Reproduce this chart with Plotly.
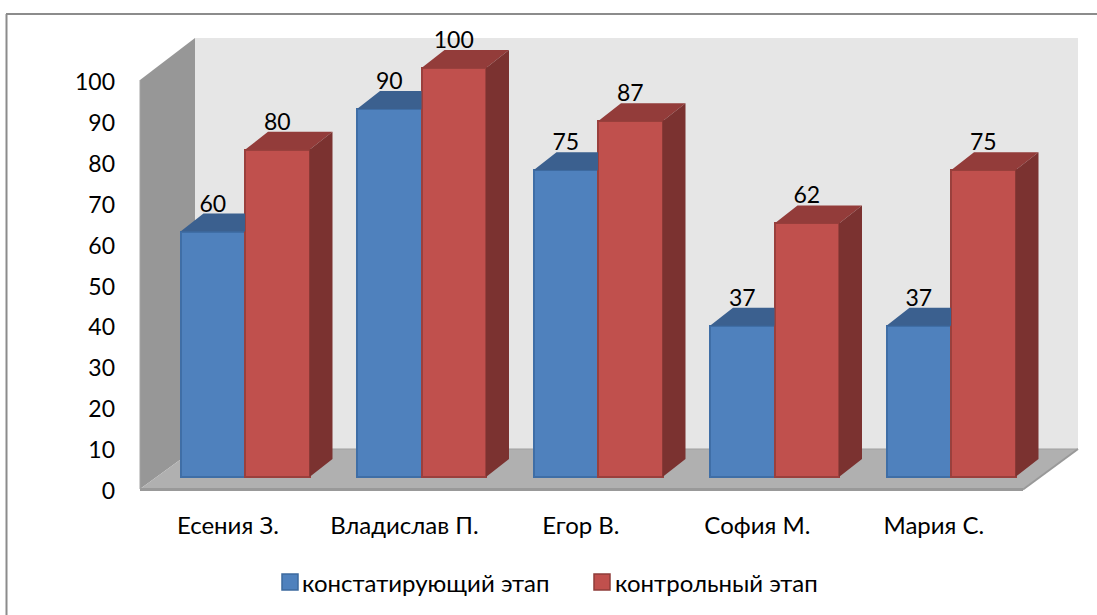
import plotly.graph_objects as go

categories = ["Есения З.", "Владислав П.", "Егор В.", "София М.", "Мария С."]
series_names = ["констатирующий этап", "контрольный этап"]
values_first = [60, 90, 75, 37, 37]
values_second = [80, 100, 87, 62, 75]
y_ticks = [0, 10, 20, 30, 40, 50, 60, 70, 80, 90, 100]

W, H = 1097, 615
L, R, T, B = 140, 1085, 20, 489          # plot area in pixels
PX_PER_VAL = 4.09
PX_PER_CAT = 176.5
X0_PX = 245                              # pixel of category 0 centre
x_min = (L - X0_PX) / PX_PER_CAT
x_max = (R - X0_PX) / PX_PER_CAT
y_max = (B - T) / PX_PER_VAL

bar_w = 64.5 / PX_PER_CAT
base = 12 / PX_PER_VAL
dx = 23 / PX_PER_CAT
dy = 18 / PX_PER_VAL

FONT = "Lato, 'Open Sans', sans-serif"
FS = 23
FS_TEXT = 24
BLUE, BLUE_EDGE = "#4f81bd", "#3f6ea6"
RED, RED_EDGE = "#c0504d", "#9a403d"


def px(x):
    return (x - L) / (R - L)


def py(y):
    return (B - y) / (B - T)


def path(points):
    return "M" + " L".join(f"{px(a):.5f},{py(b):.5f}" for a, b in points) + " Z"


def poly(points, color, line=None, width=0):
    return dict(type="path", xref="paper", yref="paper", path=path(points),
                fillcolor=color, line=dict(color=line or color, width=width), layer="below")


def seg(x0, y0, x1, y1, color, width):
    return dict(type="line", xref="paper", yref="paper",
                x0=px(x0), y0=py(y0), x1=px(x1), y1=py(y1),
                line=dict(color=color, width=width), layer="below")


shapes = [
    poly([(195, 38), (1078, 38), (1078, 449), (195, 449)], "#e6e6e6"),
    poly([(140, 80), (195, 38), (195, 449), (140, 489)], "#979797"),
    poly([(195, 449), (1078, 449), (1023, 489), (140, 489)], "#b0b0b0"),
    seg(140, 489.5, 1023, 489.5, "#999999", 3),
    seg(1023, 489.5, 1078, 449, "#999999", 2),
    seg(195, 449, 1078, 449, "#a0a0a0", 1),
    seg(140, 80, 140, 489, "#a3a3a3", 1),
    seg(6.5, 14, 6.5, 615, "#8c8c8c", 2),
    seg(6, 14, 1097, 14, "#8c8c8c", 2),
    # legend swatches
    poly([(282, 574), (298, 574), (298, 590), (282, 590)], BLUE, "#3d6a9e", 1.5),
    poly([(594, 574), (610, 574), (610, 590), (594, 590)], RED, "#8f3d3a", 1.5),
]

annotations = [
    dict(xref="paper", yref="paper", x=px(300), y=py(582), xanchor="left", yanchor="middle",
         text=series_names[0], showarrow=False, font=dict(family=FONT, size=FS_TEXT, color="#000")),
    dict(xref="paper", yref="paper", x=px(613), y=py(582), xanchor="left", yanchor="middle",
         text=series_names[1], showarrow=False, font=dict(family=FONT, size=FS_TEXT, color="#000")),
]

idx = list(range(len(categories)))
fig = go.Figure()

# front faces
fig.add_bar(x=[i - bar_w / 2 for i in idx], y=values_first, base=base, width=bar_w,
            name=series_names[0], marker=dict(color=BLUE, line=dict(color=BLUE_EDGE, width=2)))
fig.add_bar(x=[i + bar_w / 2 for i in idx], y=values_second, base=base, width=bar_w,
            name=series_names[1], marker=dict(color=RED, line=dict(color=RED_EDGE, width=2)))


def faces(pts_list):
    xs, ys = [], []
    for pts in pts_list:
        xs += [p[0] for p in pts] + [None]
        ys += [p[1] for p in pts] + [None]
    return xs, ys


# depth faces of the boxes, computed from values
top_blue, top_red, side_red = [], [], []
for i, a, b in zip(idx, values_first, values_second):
    ta, tb = a + base, b + base
    xl = i - bar_w
    top_blue.append([(xl, ta), (xl + dx, ta + dy), (i, ta + dy), (i, ta)])
    top_red.append([(i, tb), (i + dx, tb + dy), (i + bar_w + dx, tb + dy), (i + bar_w, tb)])
    xr = i + bar_w
    side_red.append([(xr, base), (xr + dx, base + dy), (xr + dx, tb + dy), (xr, tb)])

for pts, color in [(top_blue, "#3b608f"), (top_red, "#933c3a"), (side_red, "#7b3230")]:
    xs, ys = faces(pts)
    fig.add_scatter(x=xs, y=ys, mode="lines", fill="toself", fillcolor=color,
                    line=dict(width=0, color=color), showlegend=False, hoverinfo="skip")

# data labels
fig.add_scatter(x=[i - bar_w / 2 for i in idx], y=[v + base + dy + 1.9 for v in values_first],
                mode="text", text=[str(v) for v in values_first], textposition="middle center",
                textfont=dict(family=FONT, size=FS, color="#000"), showlegend=False, hoverinfo="skip")
fig.add_scatter(x=[i + bar_w / 2 for i in idx], y=[v + base + dy + 1.9 for v in values_second],
                mode="text", text=[str(v) for v in values_second], textposition="middle center",
                textfont=dict(family=FONT, size=FS, color="#000"), showlegend=False, hoverinfo="skip",
                cliponaxis=False)

fig.update_layout(
    width=W, height=H, autosize=False,
    margin=dict(l=L, r=W - R, t=T, b=H - B, autoexpand=False),
    paper_bgcolor="white", plot_bgcolor="rgba(0,0,0,0)",
    barmode="overlay", bargap=0,
    font=dict(family=FONT, size=FS, color="#000"),
    shapes=shapes,
    annotations=annotations,
    showlegend=False,
    xaxis=dict(range=[x_min, x_max], tickmode="array",
               tickvals=[i - 0.097 for i in idx], ticktext=categories,
               showgrid=False, zeroline=False, showline=False, ticks="", ticklabelstandoff=20,
               tickfont=dict(family=FONT, size=FS_TEXT)),
    yaxis=dict(range=[0, y_max], tickmode="array", tickvals=y_ticks,
               showgrid=False, zeroline=False, showline=False, ticks="", ticklabelstandoff=24,
               ticklabelshift=2, tickfont=dict(family=FONT, size=FS)),
)

fig.write_html("out.html", config={"displayModeBar": False},
               post_script="document.body.style.margin='0';document.documentElement.style.overflow='hidden';")
